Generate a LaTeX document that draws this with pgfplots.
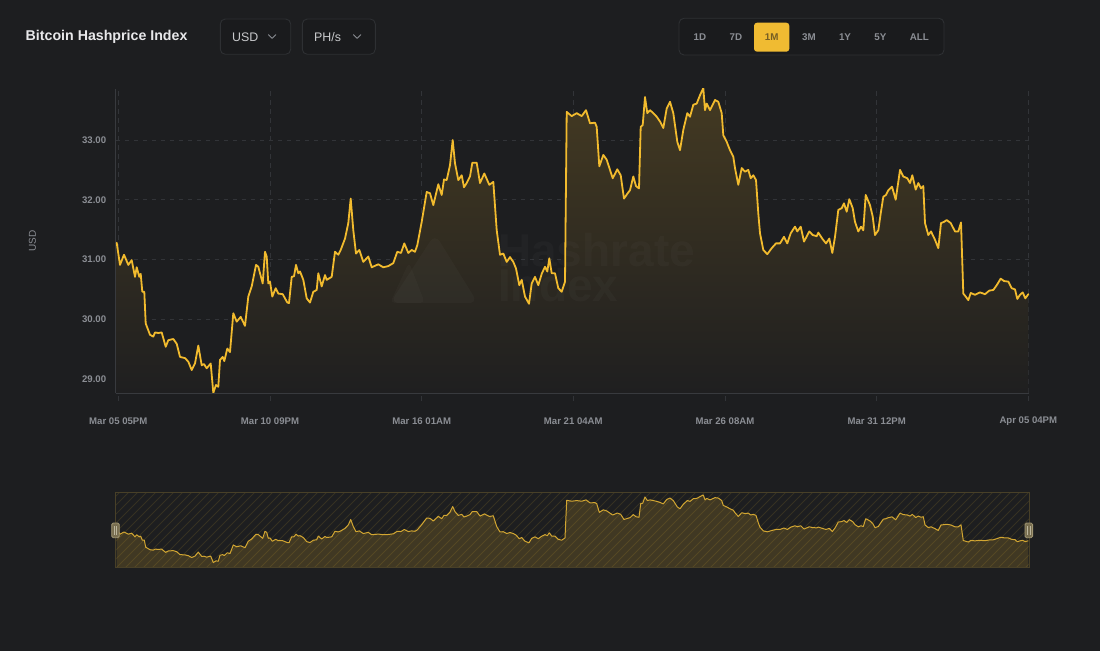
\documentclass[border=0pt]{standalone}
\usepackage{pgfplots}
\pgfplotsset{compat=1.18}
\usepackage{pgfplotstable}
\usepackage{fontspec}
\setmainfont{Liberation Sans}

\definecolor{bg}{RGB}{29,30,32}
\definecolor{linegold}{RGB}{242,187,46}
\definecolor{gold}{RGB}{240,187,50}
\definecolor{navline}{RGB}{210,166,50}
\definecolor{gridc}{RGB}{50,52,56}
\definecolor{axisc}{RGB}{56,58,62}
\definecolor{tickc}{RGB}{139,142,148}
\definecolor{titlec}{RGB}{232,232,234}
\definecolor{boxborder}{RGB}{46,48,51}
\definecolor{boxfill}{RGB}{26,27,29}
\definecolor{filltop}{RGB}{68,58,34}
\definecolor{fillbot}{RGB}{31,31,32}
\definecolor{navborder}{RGB}{72,64,40}
\definecolor{onegold}{RGB}{240,187,50}
\definecolor{onetext}{RGB}{117,94,36}
\definecolor{handlefill}{RGB}{120,110,80}
\definecolor{handledraw}{RGB}{160,150,115}

% x = horizontal position of the sample (time, Mar 05 05PM .. Apr 05 04PM), y = hashprice in USD/PH/s/day
\pgfplotstableread{
x y
116.7 31.28
120 30.91
124 31.08
128.3 30.91
131.7 30.99
135 30.71
136.7 30.87
139.3 30.71
140.7 30.76
142.3 30.46
144.3 30.46
145.7 29.93
150 29.74
153.3 29.71
155 29.78
158.3 29.77
161.7 29.78
165.7 29.54
168.3 29.65
173.3 29.67
176.7 29.59
180 29.37
185 29.35
188.3 29.29
191.7 29.15
195 29.26
198.3 29.56
201.7 29.23
204 29.25
206.7 29.18
210.7 29.26
213.3 28.77
216 28.90
218.3 28.87
220 29.32
222.7 29.37
224.3 29.30
227.3 29.51
230 29.45
233.3 30.10
236.7 29.96
240.7 30.04
245 29.89
248.3 30.38
251.7 30.55
256 30.91
258.3 30.88
262.7 30.60
265 31.13
266.7 31.05
268.3 30.60
270 30.63
272.3 30.38
275.7 30.52
278.3 30.43
282.7 30.42
287.3 30.28
289 30.27
291.7 30.71
294 30.72
296 30.91
298.3 30.77
300 30.80
303.3 30.66
306.7 30.35
310 30.28
313.3 30.46
316.7 30.49
318.3 30.77
321.7 30.55
325 30.74
326.7 30.66
331.7 30.71
335 31.13
338.3 31.08
340.7 31.16
345 31.35
348.3 31.61
350.7 32.02
353.3 31.49
356 31.10
359.3 31.16
363.3 30.96
368.3 31.05
371.7 30.87
378.3 30.92
383.3 30.87
388.3 30.89
393.3 30.94
397.3 31.13
401 31.11
404.3 31.27
408.3 31.11
411.7 31.16
415 31.13
417.3 31.24
421.7 31.63
426.7 32.13
430 32.11
433.3 31.91
438.3 32.26
441.7 32.08
444 32.34
446.7 32.33
450 32.58
452.7 33.00
455 32.61
458.3 32.33
461.7 32.41
464 32.21
466.7 32.28
470 32.39
472.3 32.62
476.7 32.62
480 32.28
484.3 32.44
489.3 32.25
493.3 32.30
496.7 31.49
500 31.08
503.3 31.10
506.7 30.96
510 31.04
513.3 30.96
516 30.85
519.3 30.57
521.7 30.66
525 30.38
529 30.26
531.7 30.60
535 30.71
538.3 30.57
541.7 30.76
545 30.88
547.3 30.80
549.3 31.02
551.7 30.77
555 30.77
558.3 30.52
561.7 30.46
565 30.63
566.7 33.47
571.7 33.40
576.7 33.45
581.7 33.40
586 33.50
590 33.28
595 33.29
596.7 33.22
599.3 32.56
603.3 32.75
606.7 32.67
610 32.50
612.7 32.36
617.3 32.51
620.7 32.41
624 32.02
627.7 32.11
630 32.16
633.3 32.39
636 32.23
639 32.19
640.7 33.22
642.7 33.25
645 33.72
647.3 33.45
650 33.50
653.3 33.45
656.7 33.39
660 33.31
663.3 33.20
666.7 33.53
670 33.64
673.3 33.45
677.3 32.97
680 32.83
683.3 33.17
687.3 33.45
690 33.39
693.3 33.59
696.7 33.61
700 33.75
703.3 33.87
705 33.50
706.7 33.61
710 33.50
715 33.67
718.3 33.64
721.7 33.45
723.3 33.08
726.7 32.97
730 32.83
733.3 32.72
735 32.53
738.3 32.25
741.7 32.53
745 32.47
748.3 32.50
750.7 32.36
753.3 32.41
756 32.33
758.3 31.77
760 31.44
763.3 31.16
767.3 31.09
771.7 31.19
776 31.27
780 31.27
784 31.38
787.3 31.27
790.7 31.44
795 31.55
797.3 31.47
800.7 31.55
804 31.30
809.3 31.47
812.7 31.41
816.7 31.39
818.3 31.45
822.7 31.34
826 31.27
829.3 31.35
832.3 31.11
835 31.38
838.3 31.83
841.7 31.86
844 31.94
846.7 31.80
849.3 32.01
852.7 31.86
855 31.63
858.3 31.47
861 31.55
863.3 31.49
865.7 32.08
870 31.91
872.7 31.72
875 31.41
878.3 31.49
880.7 31.77
883.3 32.05
886 32.08
888.3 32.16
892 32.22
895.7 32.00
900 32.50
903.3 32.39
907.3 32.36
910 32.28
912.3 32.41
915.7 32.17
918.3 32.28
921 32.19
923.3 32.23
925 31.61
928.3 31.41
931 31.47
935 31.33
938.3 31.19
941 31.61
944 31.63
946.7 31.66
950.7 31.61
955 31.47
958.3 31.47
961 31.62
963.3 30.43
965.7 30.38
968.3 30.32
970.7 30.44
975 30.41
980 30.45
985 30.42
989.3 30.48
993.3 30.49
996.7 30.57
1000.7 30.68
1004 30.64
1008.3 30.63
1011.7 30.52
1015 30.50
1017.3 30.34
1020 30.41
1022.7 30.45
1025.3 30.35
1028.3 30.42
}\hashprice

% closed outline for the area under the line (down to the axis bottom)
\pgfplotstableread{
x y
116.7 28.766
}\areatab
\pgfplotstableread{
x y
1028.3 28.766
}\areaend
\pgfplotstablevertcat{\areatab}{\hashprice}
\pgfplotstablevertcat{\areatab}{\areaend}

\begin{document}
\begin{tikzpicture}[x=1pt,y=1pt]
% background
\fill[bg] (0,0) rectangle (1100,651);

% ---- header ----
\node[anchor=west, inner sep=0, font=\fontsize{14.2}{16}\selectfont\bfseries, text=titlec] at (25.5,614) {Bitcoin Hashprice Index};

\draw[boxborder, fill=boxfill, line width=0.9pt, rounded corners=5pt] (220.3,632) rectangle (290.7,596.7);
\node[anchor=west, inner sep=0, font=\fontsize{12.4}{14}\selectfont, text=titlec!85!bg] at (232,614) {USD};
\draw[tickc, line width=0.9pt, line cap=round, line join=round] (268.5,616.3) -- (272.2,612.6) -- (275.9,616.3);

\draw[boxborder, fill=boxfill, line width=0.9pt, rounded corners=5pt] (302.3,632) rectangle (375.3,596.7);
\node[anchor=west, inner sep=0, font=\fontsize{12.4}{14}\selectfont, text=titlec!85!bg] at (314,614) {PH/s};
\draw[tickc, line width=0.9pt, line cap=round, line join=round] (353.5,616.3) -- (357.2,612.6) -- (360.9,616.3);

\draw[boxborder, fill=boxfill, line width=0.9pt, rounded corners=5pt] (679,632.7) rectangle (944,596);
\fill[onegold, rounded corners=3pt] (754,628.3) rectangle (789.3,599.3);
\foreach \lab/\cx in {1D/700, 7D/736, 3M/809, 1Y/845, 5Y/880.3, ALL/919.3}{
  \node[inner sep=0, font=\fontsize{9.8}{11}\selectfont\bfseries, text=tickc] at (\cx,614) {\lab};
}
\node[inner sep=0, font=\fontsize{9.8}{11}\selectfont\bfseries, text=onetext] at (771.7,614) {1M};

% y axis title
\node[rotate=90, inner sep=0, font=\fontsize{10}{12}\selectfont, text=tickc] at (32.5,410) {USD};

% ---- main chart ----
\begin{axis}[
  at={(115.7pt,258pt)}, anchor=south west,
  scale only axis, width=913.3pt, height=304pt,
  xmin=115.7, xmax=1029, ymin=28.766, ymax=33.854,
  axis x line*=bottom, axis y line*=left,
  axis line style={draw=axisc, line width=0.9pt, -},
  xtick={118.3,270,421.7,573.3,725,876.7,1028.3},
  xticklabels={Mar 05 05PM, Mar 10 09PM, Mar 16 01AM, Mar 21 04AM, Mar 26 08AM, Mar 31 12PM, Apr 05 04PM},
  ytick={29,30,31,32,33},
  yticklabel={\pgfmathprintnumber[fixed,fixed zerofill,precision=2]{\tick}},
  /pgf/number format/assume math mode=true,
  grid=major,
  major grid style={draw=gridc, line width=0.8pt, dash pattern=on 4.5pt off 4.5pt},
  tick align=outside, major tick length=8pt,
  xtick style={draw=gridc, line width=0.8pt, dash pattern=on 4.5pt off 4.5pt},
  ytick style={draw=none},
  tick label style={font=\fontsize{9.6}{11}\selectfont\bfseries, text=tickc},
  yticklabel style={anchor=east, xshift=2pt},
  xticklabel style={anchor=center, yshift=-20pt},
]
\addplot[top color=filltop, bottom color=fillbot, draw=none] table[x=x,y=y] {\areatab} -- cycle;
% watermark
\fill[white, opacity=0.025, rounded corners=9pt] (axis cs:435,31.43) -- (axis cs:478,30.27) -- (axis cs:390,30.27) -- cycle;
\fill[white, opacity=0.018, rounded corners=5pt] (axis cs:409,30.96) -- (axis cs:425,30.27) -- (axis cs:390,30.27) -- cycle;
\node[anchor=west, align=left, inner sep=0, font=\fontsize{46}{35}\selectfont\bfseries, text=white, opacity=0.022] at (axis cs:498,30.866) {Hashrate\\Index};
\addplot[linegold, line width=1.8pt, line join=round, line cap=round] table[x=x,y=y] {\hashprice};
\end{axis}

% ---- navigator ----
\begin{scope}
\clip (115.7,83.7) rectangle (1029,158.7);
\foreach \k in {0,...,112}{
  \draw[gold, opacity=0.12, line width=1pt] ({115.7+9*\k-80},83.7) -- ++(80,80);
}
\end{scope}
\begin{axis}[
  at={(115.7pt,83.7pt)}, anchor=south west,
  scale only axis, width=913.3pt, height=75pt,
  xmin=115.7, xmax=1029, ymin=28.413, ymax=34.074,
  hide axis,
]
\addplot[draw=none, fill=gold, fill opacity=0.17] table[x=x,y=y] {\hashprice} \closedcycle;
\addplot[navline, line width=1pt, line join=round] table[x=x,y=y] {\hashprice};
\end{axis}
\draw[navborder, line width=0.9pt] (115.7,83.7) rectangle (1029,158.7);
% handles
\foreach \hx in {115.5,1028.8}{
  \draw[handledraw, fill=handlefill, line width=0.8pt, rounded corners=1.5pt] ({\hx-3.8},113.3) rectangle ({\hx+3.8},128);
  \draw[handledraw!70!white, line width=0.6pt] ({\hx-1.2},116.5) -- ({\hx-1.2},124.8);
  \draw[handledraw!70!white, line width=0.6pt] ({\hx+1.2},116.5) -- ({\hx+1.2},124.8);
}

\pgfresetboundingbox
\useasboundingbox (0,0) rectangle (1100,651);
\end{tikzpicture}
\end{document}
